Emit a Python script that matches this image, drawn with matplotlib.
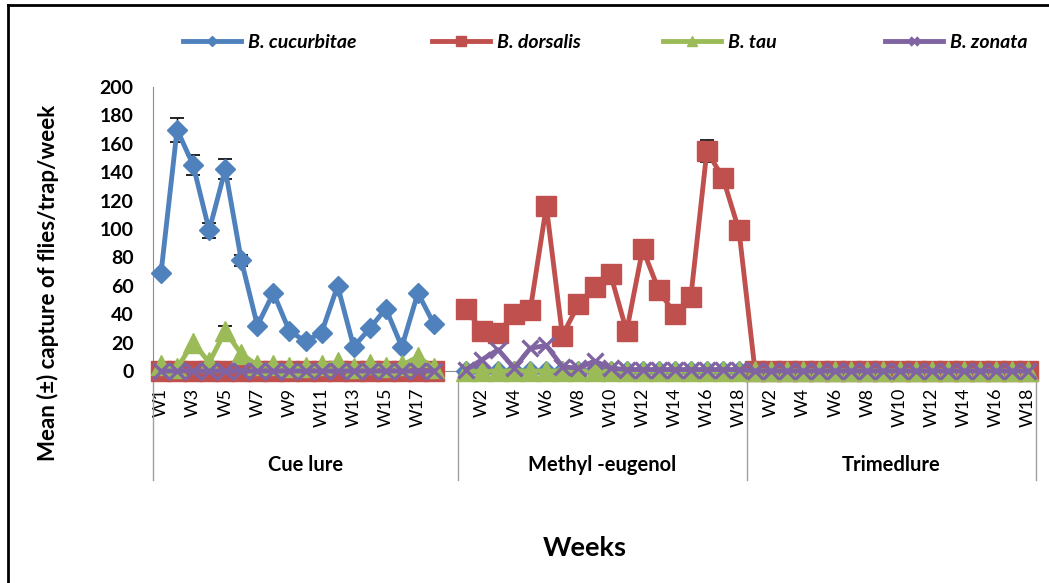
import numpy as np
import matplotlib.pyplot as plt
from matplotlib.lines import Line2D

plt.rcParams['font.family'] = ['Lato', 'DejaVu Sans']

# categories
lures = ['Cue lure', 'Methyl -eugenol', 'Trimedlure']
weeks = ['W1', 'W2', 'W3', 'W4', 'W5', 'W6', 'W7', 'W8', 'W9',
         'W10', 'W11', 'W12', 'W13', 'W14', 'W15', 'W16', 'W17', 'W18']
species = ['B. cucurbitae', 'B. dorsalis', 'B. tau', 'B. zonata']
colors = ['#4F81BD', '#C0504D', '#9BBB59', '#8064A2']

# mean capture per week
cue_cucurbitae = [69, 170, 145, 99, 142, 78, 32, 55, 28, 21, 27, 60, 17, 30, 44, 17, 55, 33]
cue_dorsalis = [0, 0, 0, 0, 0, 0, 0, 0, 0, 0, 0, 0, 0, 0, 0, 0, 0, 0]
cue_tau = [4, 2, 20, 6, 28, 12, 4, 4, 3, 3, 4, 6, 2, 5, 3, 4, 10, 2]
cue_zonata = [0, 0, 0, 0, 0, 0, 0, 0, 0, 0, 0, 0, 0, 0, 0, 0, 0, 0]

methyl_cucurbitae = [0, 0, 0, 0, 0, 0, 0, 0, 0, 0, 0, 0, 0, 0, 0, 0, 0, 0]
methyl_dorsalis = [44, 28, 27, 40, 43, 116, 25, 47, 59, 68, 28, 86, 57, 40, 52, 155, 136, 99]
methyl_tau = [0, 0, 0, 0, 0, 0, 0, 0, 0, 0, 0, 0, 0, 0, 0, 0, 0, 0]
methyl_zonata = [1, 8, 15, 2, 16, 18, 3, 2, 7, 2, 1, 1, 1, 1, 1, 1, 1, 1]

trimed_cucurbitae = [0, 0, 0, 0, 0, 0, 0, 0, 0, 0, 0, 0, 0, 0, 0, 0, 0, 0]
trimed_dorsalis = [0, 0, 0, 0, 0, 0, 0, 0, 0, 0, 0, 0, 0, 0, 0, 0, 0, 0]
trimed_tau = [0, 0, 0, 0, 0, 0, 0, 0, 0, 0, 0, 0, 0, 0, 0, 0, 0, 0]
trimed_zonata = [0, 0, 0, 0, 0, 0, 0, 0, 0, 0, 0, 0, 0, 0, 0, 0, 0, 0]

# standard errors (only the visible ones)
cue_cucurbitae_se = [0, 8.5, 7, 5, 7, 4, 0, 0, 0, 0, 0, 0, 0, 0, 0, 0, 0, 0]
cue_tau_se = [0, 0, 0, 0, 4, 0, 0, 0, 0, 0, 0, 0, 0, 0, 0, 0, 0, 0]
methyl_dorsalis_se = [0, 0, 0, 0, 0, 0, 0, 0, 0, 0, 0, 0, 0, 0, 0, 7.5, 0, 0]
zero_se = [0, 0, 0, 0, 0, 0, 0, 0, 0, 0, 0, 0, 0, 0, 0, 0, 0, 0]


def join(cue, methyl, trimed):
    # Cue lure group has one empty slot at the end (as in the excel sheet)
    return np.array(list(cue) + [np.nan] + list(methyl) + list(trimed), dtype=float)


series = [
    join(cue_cucurbitae, methyl_cucurbitae, trimed_cucurbitae),
    join(cue_dorsalis, methyl_dorsalis, trimed_dorsalis),
    join(cue_tau, methyl_tau, trimed_tau),
    join(cue_zonata, methyl_zonata, trimed_zonata),
]
errors = [
    join(cue_cucurbitae_se, zero_se, zero_se),
    join(zero_se, methyl_dorsalis_se, zero_se),
    join(cue_tau_se, zero_se, zero_se),
    join(zero_se, zero_se, zero_se),
]
labels = weeks + [''] + weeks + weeks
n = len(labels)
x = np.arange(n)
group_edges = [-0.5, len(weeks) + 0.5, 2 * len(weeks) + 0.5, 3 * len(weeks) + 0.5]

styles = [
    dict(marker='D', ms=10.5),
    dict(marker='s', ms=14.5),
    dict(marker='^', ms=14.5),
    dict(marker='x', ms=11.5, mew=2.4),
]

W, H = 1049, 583
fig = plt.figure(figsize=(W / 100, H / 100), dpi=100)
ax = fig.add_axes([153 / W, 1 - 371 / H, (1036 - 153) / W, (371 - 87) / H])

handles = []
for i, (y, s) in enumerate(zip(series, styles)):
    ln, = ax.plot(x, y, color=colors[i], lw=3.5, mfc=colors[i], mec=colors[i],
                  clip_on=False, zorder=3 + i, **s)
    handles.append(ln)

for i, (y, e) in enumerate(zip(series, errors)):
    m = np.nan_to_num(e) > 0
    ax.errorbar(x[m], y[m], yerr=e[m], fmt='none', ecolor='black', elinewidth=1,
                capsize=5, capthick=1.2, zorder=2.5 + i)

ax.set_xlim(-0.5, n - 0.5)
ax.set_ylim(0, 200)
ax.set_yticks(np.arange(0, 201, 20))
ax.tick_params(axis='y', length=0, pad=14, labelsize=14)
for t in ax.get_yticklabels():
    t.set_fontweight('bold')

ax.set_xticks(x)
ax.set_xticklabels([lab if k % 2 == 0 else '' for k, lab in enumerate(labels)],
                   rotation=90, fontsize=13)
ax.tick_params(axis='x', length=0, pad=12)

for sp in ['top', 'right']:
    ax.spines[sp].set_visible(False)
ax.spines['left'].set_color('#8C8C8C')
ax.spines['bottom'].set_color('#8C8C8C')

trans = ax.get_xaxis_transform()
for xe in group_edges:
    ax.plot([xe, xe], [0, -0.384], transform=trans, color='#A0A0A0', lw=1, clip_on=False)
for k, lure in enumerate(lures):
    ax.text((group_edges[k] + group_edges[k + 1]) / 2, -0.331, lure, transform=trans,
            ha='center', va='center', fontsize=14.5, fontweight='bold')

fig.text(48 / W, 1 - 283 / H, 'Mean (±) capture of flies/trap/week', rotation=90,
         ha='center', va='center', fontsize=16, fontweight='bold')
fig.text(585 / W, 1 - 548 / H, 'Weeks', ha='center', va='center',
         fontsize=19.5, fontweight='bold')

# legend entries spaced like the excel one
leg_x = [183, 432, 663, 885]
for h, lab, lx in zip(handles, species, leg_x):
    fig.legend(handles=[h], labels=[lab], loc='center left',
               bbox_to_anchor=(lx / W, 1 - 42 / H), frameon=False,
               borderpad=0, borderaxespad=0, handlelength=3.0,
               handletextpad=0.35, markerscale=0.5,
               prop=dict(size=14, weight='bold', style='italic'))

# frame of the original picture (left and top edges)
fig.add_artist(Line2D([8 / W, 8 / W], [0, 1 - 5 / H], transform=fig.transFigure, color='black', lw=2))
fig.add_artist(Line2D([8 / W, 1], [1 - 5 / H, 1 - 5 / H], transform=fig.transFigure, color='black', lw=2))

fig.savefig('out.png', dpi=100)
